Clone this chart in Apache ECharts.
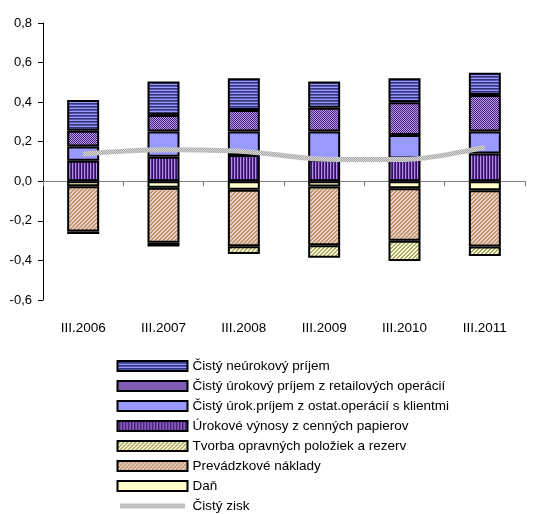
<!DOCTYPE html>
<html>
<head>
<meta charset="utf-8">
<script src="https://cdn.jsdelivr.net/npm/echarts@6/dist/echarts.min.js"></script>
<style>html,body{margin:0;padding:0;background:#fff;}#c{width:549px;height:514px;}</style>
</head>
<body>
<div id="c"></div>
<script>
const categories = ['III.2006','III.2007','III.2008','III.2009','III.2010','III.2011'];
const neurokovy = [0.155, 0.169, 0.161, 0.132, 0.122, 0.113];
const retail = [0.080, 0.083, 0.108, 0.120, 0.165, 0.185];
const klienti = [0.072, 0.128, 0.119, 0.142, 0.119, 0.110];
const papiere = [0.104, 0.124, 0.133, 0.110, 0.115, 0.141];
const tvorba = [-0.013, -0.019, -0.039, -0.063, -0.102, -0.047];
const prevadzkove = [-0.229, -0.278, -0.285, -0.297, -0.266, -0.285];
const dan = [-0.025, -0.033, -0.043, -0.026, -0.035, -0.045];
const zisk = [0.138, 0.159, 0.151, 0.112, 0.110, 0.172];
const yTicks = {min: -0.6, max: 0.8, interval: 0.2};

const names = {
  neur: 'Čistý neúrokový príjem',
  ret: 'Čistý úrokový príjem z retailových operácií',
  kl: 'Čistý úrok.príjem z ostat.operácií s klientmi',
  pap: 'Úrokové výnosy z cenných papierov',
  tv: 'Tvorba opravných položiek a rezerv',
  prev: 'Prevádzkové náklady',
  dan: 'Daň',
  zisk: 'Čistý zisk'
};

function pat(w, h, fn) {
  const c = document.createElement('canvas');
  c.width = w; c.height = h;
  const g = c.getContext('2d');
  for (let y = 0; y < h; y++) for (let x = 0; x < w; x++) {
    g.fillStyle = fn(x, y); g.fillRect(x, y, 1, 1);
  }
  return {image: c, repeat: 'repeat'};
}
const pNeur = pat(4, 3, (x, y) => ['#9999ff', '#333377', '#5555aa'][y]);
const pRet = pat(2, 2, (x, y) => ((x + y) % 2) ? '#bb99ee' : '#442277');
const pPap = pat(3, 4, (x, y) => ['#bb88ee', '#553388', '#331166'][x]);
const pTv = pat(4, 4, (x, y) => ((x + y) % 4 < 2) ? '#ffffcc' : '#a8a878');
const pPrev = pat(4, 4, (x, y) => ((x + y) % 4 < 2) ? '#ffcc99' : '#aa9999');
const pZisk = pat(2, 2, (x, y) => ((x + y) % 2) ? '#d8d8d8' : '#a8a8a8');

const font = 'Liberation Sans, Arial, sans-serif';
function bar(name, data, color) {
  return {
    name, type: 'bar', data, stack: 'a', barWidth: 32, xAxisIndex: 0,
    itemStyle: {color, borderColor: '#000', borderWidth: 2},
    emphasis: {disabled: true}
  };
}
const chart = echarts.init(document.getElementById('c'), null, {renderer: 'canvas'});
chart.setOption({
  animation: false,
  backgroundColor: '#fff',
  grid: {left: 43, right: 24, top: 23, bottom: 214, containLabel: false},
  legend: {
    orient: 'vertical', left: 115, top: 358, padding: 0, height: 200,
    itemWidth: 70, itemHeight: 10, itemGap: 4, icon: 'rect',
    textStyle: {fontFamily: font, fontSize: 13.5, color: '#000', lineHeight: 16},
    data: [names.neur, names.ret, names.kl, names.pap, names.tv, names.prev, names.dan,
      {name: names.zisk, icon: 'rect', itemStyle: {color: '#c0c0c0', borderColor: '#fff', borderWidth: 5}}]
  },
  xAxis: [{
    type: 'category', data: categories, position: 'bottom',
    axisLine: {onZero: true, lineStyle: {color: '#808080', width: 1}},
    axisTick: {show: true, length: 5, lineStyle: {color: '#808080'}},
    axisLabel: {show: false}
  }, {
    type: 'category', data: categories, position: 'bottom',
    axisLine: {show: false, onZero: false}, axisTick: {show: false},
    axisLabel: {show: true, margin: 21, fontFamily: font, fontSize: 13.5, color: '#000'}
  }],
  yAxis: {
    type: 'value', min: yTicks.min, max: yTicks.max, interval: yTicks.interval,
    axisLine: {show: true, lineStyle: {color: '#000', width: 1}},
    axisTick: {show: true, length: 5, lineStyle: {color: '#000'}},
    splitLine: {show: false},
    axisLabel: {fontFamily: font, fontSize: 13, color: '#000', margin: 11,
      formatter: v => v.toFixed(1).replace('.', ',')}
  },
  series: [
    bar(names.pap, papiere, pPap),
    bar(names.kl, klienti, '#9999ff'),
    bar(names.ret, retail, pRet),
    bar(names.neur, neurokovy, pNeur),
    bar(names.dan, dan, '#ffffcc'),
    bar(names.prev, prevadzkove, pPrev),
    bar(names.tv, tvorba, pTv),
    {
      name: names.zisk, type: 'line', data: zisk, smooth: 0.3, symbol: 'none',
      xAxisIndex: 0, z: 5,
      lineStyle: {color: pZisk, width: 5},
      itemStyle: {color: '#c0c0c0'},
      emphasis: {disabled: true}
    }
  ]
});
</script>
</body>
</html>
